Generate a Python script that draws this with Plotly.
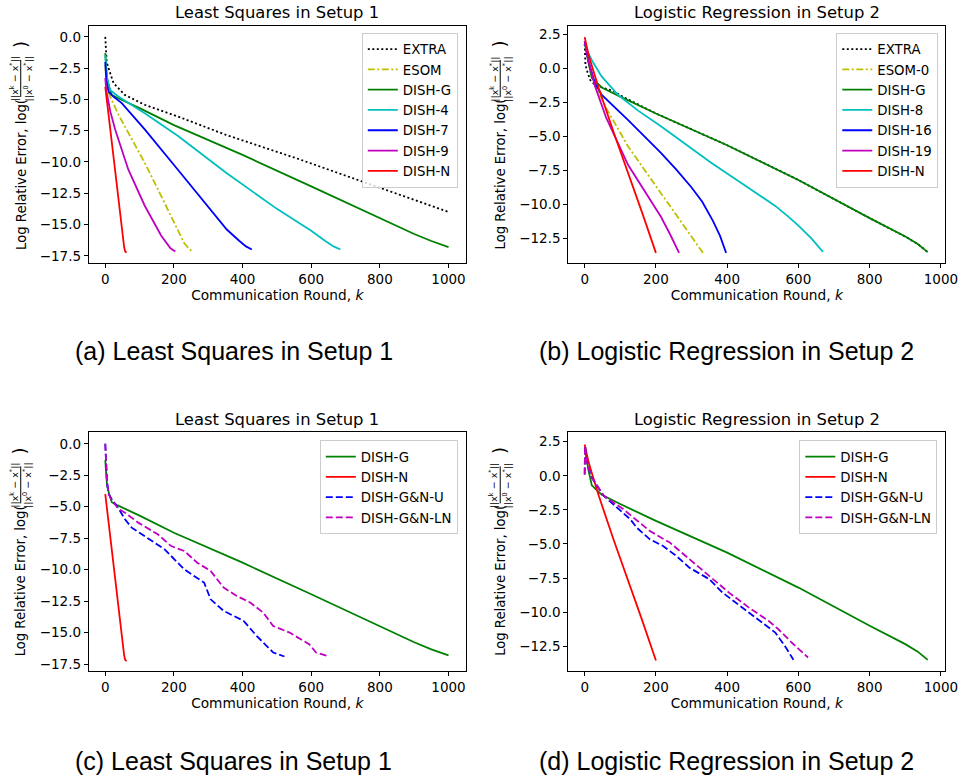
import plotly.graph_objects as go

# ---------------- data ----------------
# Panel (a): Least Squares in Setup 1
a_extra_k = [0, 1, 2, 4, 9.5, 24, 57, 115, 211, 350, 556, 748, 1000]
a_extra_y = [0, -0.8, -1.5, -2.0, -2.5, -3.7, -4.64, -5.43, -6.36, -7.82, -9.7, -11.55, -14.0]
a_esom_k = [0, 3, 8, 14, 40, 67, 115, 163, 211, 230, 252]
a_esom_y = [-2.2, -3.5, -4.3, -4.77, -6.3, -7.69, -10.07, -12.73, -15.5, -16.5, -17.15]
ls_g_k = [0, 2, 5, 11.5, 19, 33, 67, 100, 200, 400, 600, 800, 850, 900, 950, 1000]
ls_g_y = [-1.3, -2.3, -3.3, -3.98, -4.64, -4.85, -5.25, -5.7, -7.06, -9.44, -11.95, -14.46, -15.12, -15.76, -16.32, -16.8]
a_d4_k = [0, 3, 8, 14, 38, 115, 211, 354, 500, 600, 640, 665, 685]
a_d4_y = [-1.46, -2.8, -3.7, -4.24, -4.77, -6.1, -7.9, -10.9, -13.75, -15.5, -16.3, -16.75, -17.0]
a_d7_k = [0, 3, 9.5, 20, 48, 115, 211, 268, 354, 390, 410, 427]
a_d7_y = [-2.0, -3.5, -4.37, -4.7, -5.3, -7.4, -10.6, -12.5, -15.4, -16.3, -16.75, -17.0]
a_d9_k = [0, 3, 8, 15, 29, 67, 115, 163, 190, 204]
a_d9_y = [-3.3, -4.3, -5.0, -6.0, -7.42, -10.6, -13.5, -15.9, -16.9, -17.15]
ls_n_k = [0, 10, 20, 30, 40, 50, 55, 58, 62]
ls_n_y = [-4.0, -6.4, -8.8, -11.2, -13.6, -15.9, -16.8, -17.15, -17.25]

# Panel (b): Logistic Regression in Setup 2
b_extra_k = [0, 1, 2, 6, 15.6, 29, 57, 85, 101, 200, 400, 600, 800, 850, 900, 935, 963]
b_extra_y = [1.8, 1.0, 0.3, -0.12, -0.85, -1.22, -1.46, -1.71, -2.0, -3.31, -5.64, -8.2, -11.0, -11.65, -12.35, -12.9, -13.5]
b_esom_k = [0, 5, 15, 29, 60, 122, 214, 270, 300, 332]
b_esom_y = [2.0, 1.3, 0.0, -1.2, -2.9, -5.74, -9.16, -11.3, -12.4, -13.55]
lr_g_k = [0, 5, 10, 20, 48, 94, 200, 400, 600, 800, 850, 900, 935, 963]
lr_g_y = [2.0, 1.2, 0.5, -0.7, -1.4, -2.0, -3.31, -5.64, -8.2, -11.0, -11.65, -12.35, -12.9, -13.5]
b_d8_k = [0, 5, 20, 48, 94, 150, 214, 353, 450, 535, 570, 600, 635, 669]
b_d8_y = [1.8, 1.4, 0.6, -0.6, -1.95, -3.1, -4.25, -6.9, -8.6, -10.1, -10.85, -11.55, -12.45, -13.48]
b_d16_k = [0, 10, 29, 48, 122, 214, 258, 300, 330, 360, 380, 397]
b_d16_y = [2.0, 0.6, -1.1, -1.95, -3.8, -6.2, -7.45, -8.75, -9.8, -11.2, -12.3, -13.55]
b_d19_k = [0, 10, 29, 60, 122, 214, 240, 265]
b_d19_y = [2.0, 0.6, -1.3, -3.6, -7.1, -10.9, -12.2, -13.55]
lr_n_k = [0, 5, 10, 20, 40, 80, 120, 160, 200]
lr_n_y = [2.3, 1.7, 1.1, 0.2, -1.5, -4.6, -7.5, -10.5, -13.55]

# Panel (c): Least Squares in Setup 1 (hybrid)
c_u_k = [0, 2, 5, 10, 19, 40, 57.5, 77, 115, 173, 230, 288, 307, 345, 403, 441, 489, 522]
c_u_y = [0, -1.5, -3.0, -4.0, -4.41, -5.2, -6.0, -6.66, -7.32, -8.38, -9.97, -11.02, -12.35, -13.27, -14.06, -15.25, -16.57, -16.89]
c_ln_k = [0, 2, 5, 10, 19, 40, 57.5, 96, 153, 192, 230, 268, 307, 345, 383, 422, 460, 489, 537, 594, 614, 652]
c_ln_y = [0, -1.5, -3.0, -4.0, -4.5, -5.2, -5.47, -6.26, -7.19, -8.12, -8.51, -9.44, -10.1, -11.42, -12.08, -12.6, -13.4, -14.46, -14.99, -15.91, -16.57, -16.89]

# Panel (d): Logistic Regression in Setup 2 (hybrid)
d_u_k = [0, 1, 5, 17, 54, 91, 128, 146, 183, 220, 257, 294, 350, 387, 424, 461, 497, 535, 562, 586]
d_u_y = [0.1, 2.2, 1.2, -0.02, -1.48, -2.34, -3.19, -3.8, -4.66, -5.15, -5.88, -6.74, -7.59, -8.57, -9.3, -10.03, -10.77, -11.5, -12.48, -13.5]
d_ln_k = [0, 1, 5, 17, 54, 109, 137, 183, 239, 294, 350, 405, 461, 516, 544, 581, 627]
d_ln_y = [0.1, 2.2, 1.2, -0.02, -1.48, -2.46, -3.07, -4.05, -4.9, -6.12, -7.35, -8.57, -9.67, -10.64, -11.26, -12.23, -13.33]

panel_titles = ["Least Squares in Setup 1", "Logistic Regression in Setup 2",
                "Least Squares in Setup 1", "Logistic Regression in Setup 2"]
captions = ["(a) Least Squares in Setup 1", "(b) Logistic Regression in Setup 2",
            "(c) Least Squares in Setup 1", "(d) Logistic Regression in Setup 2"]
x_ticks = [0, 200, 400, 600, 800, 1000]
ls_y_ticks = [0.0, -2.5, -5.0, -7.5, -10.0, -12.5, -15.0, -17.5]
lr_y_ticks = [2.5, 0.0, -2.5, -5.0, -7.5, -10.0, -12.5]

# ---------------- style ----------------
W, H = 972, 778
FONT = "DejaVu Sans"
K, Y, G, C, B, M, R = "#000000", "#bfbf00", "#008000", "#00bfbf", "#0000ff", "#bf00bf", "#ff0000"
DOT, DASHDOT, DASH = "2px,2.5px", "7px,2.5px,2px,2.5px", "7px,3px"


def P(x):
    return x / W


def Q(y):
    return 1 - y / H


fig = go.Figure()


def add(k, y, name, color, dash, idx):
    sfx = "" if idx == 1 else str(idx)
    fig.add_trace(go.Scatter(
        x=k, y=y, mode="lines", name=name,
        line=dict(color=color, width=1.8, dash=dash),
        xaxis="x" + sfx, yaxis="y" + sfx, legend="legend" + sfx))


add(a_extra_k, a_extra_y, "EXTRA", K, DOT, 1)
add(a_esom_k, a_esom_y, "ESOM", Y, DASHDOT, 1)
add(ls_g_k, ls_g_y, "DISH-G", G, "solid", 1)
add(a_d4_k, a_d4_y, "DISH-4", C, "solid", 1)
add(a_d7_k, a_d7_y, "DISH-7", B, "solid", 1)
add(a_d9_k, a_d9_y, "DISH-9", M, "solid", 1)
add(ls_n_k, ls_n_y, "DISH-N", R, "solid", 1)

add(b_extra_k, b_extra_y, "EXTRA", K, DOT, 2)
add(b_esom_k, b_esom_y, "ESOM-0", Y, DASHDOT, 2)
add(lr_g_k, lr_g_y, "DISH-G", G, "solid", 2)
add(b_d8_k, b_d8_y, "DISH-8", C, "solid", 2)
add(b_d16_k, b_d16_y, "DISH-16", B, "solid", 2)
add(b_d19_k, b_d19_y, "DISH-19", M, "solid", 2)
add(lr_n_k, lr_n_y, "DISH-N", R, "solid", 2)

add(ls_g_k, ls_g_y, "DISH-G", G, "solid", 3)
add(ls_n_k, ls_n_y, "DISH-N", R, "solid", 3)
add(c_u_k, c_u_y, "DISH-G&N-U", B, DASH, 3)
add(c_ln_k, c_ln_y, "DISH-G&N-LN", M, DASH, 3)

add(lr_g_k, lr_g_y, "DISH-G", G, "solid", 4)
add(lr_n_k, lr_n_y, "DISH-N", R, "solid", 4)
add(d_u_k, d_u_y, "DISH-G&N-U", B, DASH, 4)
add(d_ln_k, d_ln_y, "DISH-G&N-LN", M, DASH, 4)

# panel geometry in pixels: (left, right, top, bottom)
boxes = [(90, 472, 26, 263), (576, 958, 26, 263), (90, 472, 433, 672), (576, 958, 433, 672)]
yranges = [[-18.05, 0.87], [-14.27, 3.12], [-18.05, 0.9], [-14.33, 3.18]]
yticks = [ls_y_ticks, lr_y_ticks, ls_y_ticks, lr_y_ticks]
xranges = [[-48, 1050], [-46, 1012], [-48, 1050], [-46, 1012]]

layout = dict(width=W, height=H, margin=dict(l=0, r=0, t=0, b=0),
              paper_bgcolor="white", plot_bgcolor="white",
              font=dict(family=FONT, size=13.5, color="black"))
annotations = []
shapes = []
for i, (l, r, t, b) in enumerate(boxes):
    sfx = "" if i == 0 else str(i + 1)
    axcommon = dict(showline=True, mirror=True, linecolor="black", linewidth=1,
                    ticks="outside", ticklen=4, tickwidth=1, tickcolor="black",
                    showgrid=False, zeroline=False,
                    tickfont=dict(family=FONT, size=13.5, color="black"))
    layout["xaxis" + sfx] = dict(axcommon, domain=[P(l), P(r)], range=xranges[i],
                                 tickvals=x_ticks, anchor="y" + sfx,
                                 title=dict(text="Communication Round, <i>k</i>",
                                            font=dict(family=FONT, size=13.7), standoff=4))
    layout["yaxis" + sfx] = dict(axcommon, domain=[Q(b), Q(t)], range=yranges[i],
                                 tickvals=yticks[i], tickformat=".1f", anchor="x" + sfx)
    # panel title
    annotations.append(dict(text=panel_titles[i], x=P((l + r) / 2), y=Q(t - 13),
                            xref="paper", yref="paper", xanchor="center", yanchor="middle",
                            showarrow=False, font=dict(family=FONT, size=16.4)))
    # caption
    cy = 351 if i < 2 else 762
    cx = 237 if i % 2 == 0 else 736
    annotations.append(dict(text=captions[i], x=P(cx), y=Q(cy), xref="paper", yref="paper",
                            xanchor="center", yanchor="middle", showarrow=False,
                            font=dict(family="Liberation Sans", size=25)))
    # y-axis label with stacked fraction
    dx = l - 90
    dy = t - 26
    annotations.append(dict(text="Log Relative Error, log(", x=P(21 + dx), y=Q(251 + dy),
                            xref="paper", yref="paper", xanchor="center", yanchor="bottom",
                            textangle=-90, showarrow=False, borderpad=0,
                            font=dict(family=FONT, size=13.2)))
    annotations.append(dict(text="||x<sup>k</sup> \u2212 x<sup>*</sup>||", x=P(14.5 + dx), y=Q(79 + dy),
                            xref="paper", yref="paper", xanchor="center", yanchor="middle",
                            textangle=-90, showarrow=False, borderpad=0,
                            font=dict(family=FONT, size=9.5)))
    annotations.append(dict(text="||x<sup>0</sup> \u2212 x<sup>*</sup>||", x=P(28 + dx), y=Q(79 + dy),
                            xref="paper", yref="paper", xanchor="center", yanchor="middle",
                            textangle=-90, showarrow=False, borderpad=0,
                            font=dict(family=FONT, size=9.5)))
    annotations.append(dict(text=")", x=P(21 + dx), y=Q(44 + dy),
                            xref="paper", yref="paper", xanchor="center", yanchor="middle",
                            textangle=-90, showarrow=False, borderpad=0,
                            font=dict(family=FONT, size=17)))
    shapes.append(dict(type="line", xref="paper", yref="paper",
                       x0=P(21 + dx), x1=P(21 + dx), y0=Q(97 + dy), y1=Q(60 + dy),
                       line=dict(color="black", width=1)))

legend_pos = [(464, 33), (951, 33), (464, 441), (950, 441)]
for i, (lx, ly) in enumerate(legend_pos):
    sfx = "" if i == 0 else str(i + 1)
    layout["legend" + sfx] = dict(x=P(lx), y=Q(ly), xref="paper", yref="paper",
                                  xanchor="right", yanchor="top",
                                  bgcolor="rgba(255,255,255,0.8)", bordercolor="#cccccc",
                                  borderwidth=1, font=dict(family=FONT, size=13.3),
                                  itemwidth=30)

layout["annotations"] = annotations
layout["shapes"] = shapes
layout["showlegend"] = True
fig.update_layout(**layout)
fig.write_html("out.html", config={"displayModeBar": False},
               post_script="document.body.style.margin='0px';")
